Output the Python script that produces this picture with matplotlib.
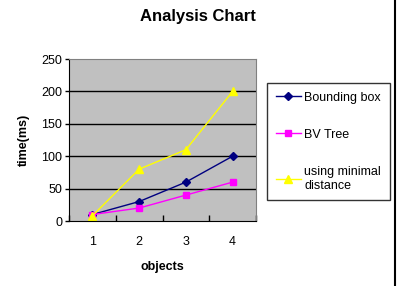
import matplotlib.pyplot as plt
from matplotlib.lines import Line2D

plt.rcParams['font.family'] = ['Liberation Sans', 'DejaVu Sans']

objects = [1, 2, 3, 4]
bounding_box = [10, 30, 60, 100]
bv_tree = [10, 20, 40, 60]
minimal_distance = [8, 80, 110, 200]
y_ticks = [0, 50, 100, 150, 200, 250]


def main():
    fig = plt.figure(figsize=(4.0, 2.86), dpi=100)
    ax = fig.add_axes([69 / 400, 1 - 221 / 286, 187 / 400, 162 / 286])
    ax.set_facecolor("#c0c0c0")

    x = [i - 0.5 for i in objects]
    ax.plot(x, bounding_box, color="#000080", marker="D", markersize=4, linewidth=1, label="Bounding box")
    ax.plot(x, bv_tree, color="#ff00ff", marker="s", markersize=4.5, linewidth=1, label="BV Tree")
    ax.plot(x, minimal_distance, color="#ffff00", marker="^", markersize=5.5, linewidth=1,
            label="using minimal\ndistance")

    ax.set_xlim(0, len(objects))
    ax.set_ylim(0, 250)
    ax.set_yticks(y_ticks)
    ax.set_xticks(range(len(objects) + 1))
    ax.set_xticklabels([])
    ax.set_xticks(x, minor=True)
    ax.set_xticklabels([str(o) for o in objects], minor=True)
    ax.tick_params(axis="x", which="minor", length=0, pad=11, labelsize=9)
    ax.tick_params(axis="x", which="major", direction="in", length=4, width=1)
    ax.tick_params(axis="y", direction="out", length=3, width=1, labelsize=9, pad=2)

    for v in y_ticks[1:-1]:
        ax.axhline(v, color="black", linewidth=1, zorder=1)

    for side in ["top", "right"]:
        ax.spines[side].set_color("#808080")
    ax.spines["left"].set_color("black")
    ax.spines["bottom"].set_color("black")

    ax.set_xlabel("objects", fontsize=9, fontweight="bold", labelpad=9)
    ax.set_ylabel("time(ms)", fontsize=9, fontweight="bold", labelpad=8)
    fig.text(0.495, 1 - 17 / 286, "Analysis Chart", ha="center", va="center",
             fontsize=12, fontweight="bold")

    leg = fig.legend(loc="upper left", bbox_to_anchor=(267 / 400, 1 - 83 / 286),
                     frameon=True, fancybox=False, edgecolor="black", fontsize=9,
                     labelspacing=2.0, handlelength=2.0, handletextpad=0.3,
                     borderpad=0.7, borderaxespad=0)
    leg.get_frame().set_linewidth(1)

    fig.add_artist(Line2D([395 / 400, 395 / 400], [0, 1], color="black", linewidth=1.5))

    fig.savefig("out.png", dpi=100)


if __name__ == "__main__":
    main()
